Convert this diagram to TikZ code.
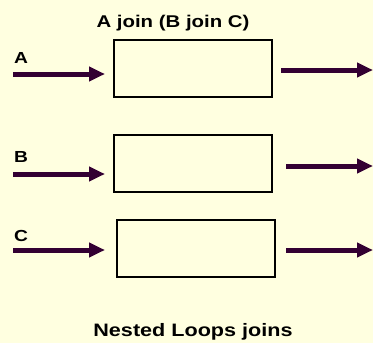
\documentclass[tikz,border=0pt]{standalone}
\usepackage{fontspec}
\setmainfont{Liberation Sans}[FakeStretch=1.2]
\usetikzlibrary{arrows.meta}

\definecolor{paper}{HTML}{FFFFE0}
\definecolor{plum}{HTML}{330033}

\tikzset{
  relbox/.style={draw=black, line width=2pt, minimum width=158pt,
    minimum height=57pt, inner sep=0pt},
  flow/.style={plum, line width=5pt, -{Triangle[length=16pt,width=14pt]}},
  lbl/.style={font=\bfseries\fontsize{16}{18}\selectfont, inner sep=0pt}
}

\begin{document}
\begin{tikzpicture}[x=1pt,y=-1pt]
  \useasboundingbox[fill=paper] (0,0) rectangle (373,343);

  \node[relbox] (boxA) at (193,68.5) {};
  \node[relbox] (boxB) at (193,163.5) {};
  \node[relbox] (boxC) at (196,248.5) {};

  \node[lbl, font=\bfseries\fontsize{17}{19}\selectfont, anchor=base] (title) at (173,27) {A join (B join C)};
  \node[lbl, anchor=base west] (labA) at (14,63) {A};
  \node[lbl, anchor=base west] (labB) at (14,162) {B};
  \node[lbl, anchor=base west] (labC) at (14,241) {C};
  \node[lbl, font=\bfseries\fontsize{18}{20}\selectfont, anchor=base] (caption) at (193,336) {Nested Loops joins};

  \foreach \r/\yi/\yo/\gi/\go in {A/74/70/8pt/8pt, B/174/166/8pt/13pt, C/250/250/11pt/10pt} {
    \coordinate (in\r) at (13,\yi);
    \coordinate (out\r) at (373,\yo);
    \draw[flow, shorten >=\gi] (in\r) -- (box\r.west |- in\r);
    \draw[flow, shorten <=\go] (box\r.east |- out\r) -- (out\r);
  }
\end{tikzpicture}
\end{document}
